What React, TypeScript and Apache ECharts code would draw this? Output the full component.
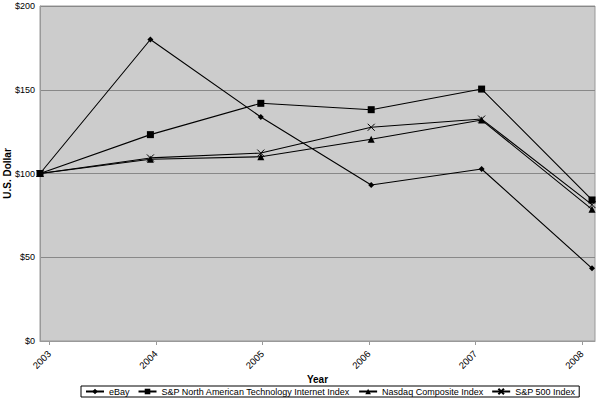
import { useEffect, useRef } from 'react';
import * as echarts from 'echarts';

const years = ['2003', '2004', '2005', '2006', '2007', '2008'];
const yearTicks = [2003, 2004, 2005, 2006, 2007, 2008];

const ebay = [100, 180, 133.7, 93.1, 102.7, 43.4];
const spInternet = [100, 123.2, 141.9, 138.1, 150.4, 84.2];
const nasdaq = [100, 108.5, 110, 120.4, 131.9, 78.6];
const sp500 = [100, 109.3, 112.2, 127.6, 132.5, 81.4];

const FONT = '"Liberation Sans", Arial, sans-serif';
const CROSS = 'path://M0,0L10,10M10,0L0,10';

function points(values: number[]) {
  return values.map((v, i) => [i, v]);
}

export default function App() {
  const chartRef = useRef<HTMLDivElement>(null);

  useEffect(() => {
    if (!chartRef.current) return;
    const chart = echarts.init(chartRef.current, null, { renderer: 'svg' });

    const lineStyle = { color: '#000', width: 1.1 };
    const filled = { color: '#000', borderWidth: 0 };

    chart.setOption({
      animation: false,
      textStyle: { fontFamily: FONT },
      grid: {
        left: 40,
        right: 1,
        top: 6,
        bottom: 61,
        outerBoundsMode: 'none',
        containLabel: false,
        show: true,
        backgroundColor: '#cccccc',
        borderColor: '#999',
        borderWidth: 1,
      },
      legend: {
        top: 386,
        left: 81,
        padding: [1, 4, 1, 4],
        itemGap: 8,
        itemWidth: 18,
        itemHeight: 7,
        borderColor: '#000',
        borderWidth: 1,
        borderRadius: 0,
        textStyle: { fontSize: 9, color: '#000', fontFamily: FONT },
      },
      xAxis: [
        {
          type: 'value',
          min: 0,
          max: 5.027,
          show: false,
        },
        {
          type: 'value',
          position: 'bottom',
          min: 2002.913,
          max: 2008.124,
          name: 'Year',
          nameLocation: 'middle',
          nameGap: 33,
          nameMoveOverlap: false,
          nameTextStyle: { fontWeight: 'bold', fontSize: 10, color: '#000', fontFamily: FONT },
          axisLine: { show: true, lineStyle: { color: '#999' } },
          axisTick: { show: true, length: 4, customValues: yearTicks, lineStyle: { color: '#999' } },
          axisLabel: {
            customValues: yearTicks,
            rotate: 45,
            fontSize: 9.5,
            color: '#000',
            margin: 11,
            formatter: (v: number) => years[yearTicks.indexOf(Math.round(v))] ?? '',
          },
          splitLine: { show: false },
        },
      ],
      yAxis: {
        type: 'value',
        min: 0,
        max: 200,
        interval: 50,
        name: 'U.S. Dollar',
        nameLocation: 'middle',
        nameGap: 28,
        nameMoveOverlap: false,
        nameTextStyle: { fontWeight: 'bold', fontSize: 10, color: '#000', fontFamily: FONT },
        axisLine: { show: true, lineStyle: { color: '#999' } },
        axisTick: { show: false },
        axisLabel: { formatter: (v: number) => '$' + v, fontSize: 9, color: '#000', margin: 5 },
        splitLine: { show: true, lineStyle: { color: '#888', width: 1 } },
      },
      series: [
        {
          name: 'eBay',
          type: 'line',
          xAxisIndex: 0,
          data: points(ebay),
          symbol: 'diamond',
          symbolSize: 6,
          lineStyle,
          itemStyle: filled,
        },
        {
          name: 'S&P North American Technology Internet Index',
          type: 'line',
          xAxisIndex: 0,
          data: points(spInternet),
          symbol: 'rect',
          symbolSize: 7,
          lineStyle,
          itemStyle: filled,
        },
        {
          name: 'Nasdaq Composite Index',
          type: 'line',
          xAxisIndex: 0,
          data: points(nasdaq),
          symbol: 'triangle',
          symbolSize: 7,
          lineStyle,
          itemStyle: filled,
        },
        {
          name: 'S&P 500 Index',
          type: 'line',
          xAxisIndex: 0,
          data: points(sp500),
          symbol: CROSS,
          symbolSize: 7,
          lineStyle,
          itemStyle: { color: 'transparent', borderColor: '#000', borderWidth: 1 },
        },
      ],
    });

    return () => {
      chart.dispose();
    };
  }, []);

  return (
    <div
      ref={chartRef}
      style={{ position: 'absolute', left: 0, top: 0, width: 596, height: 402 }}
    />
  );
}
